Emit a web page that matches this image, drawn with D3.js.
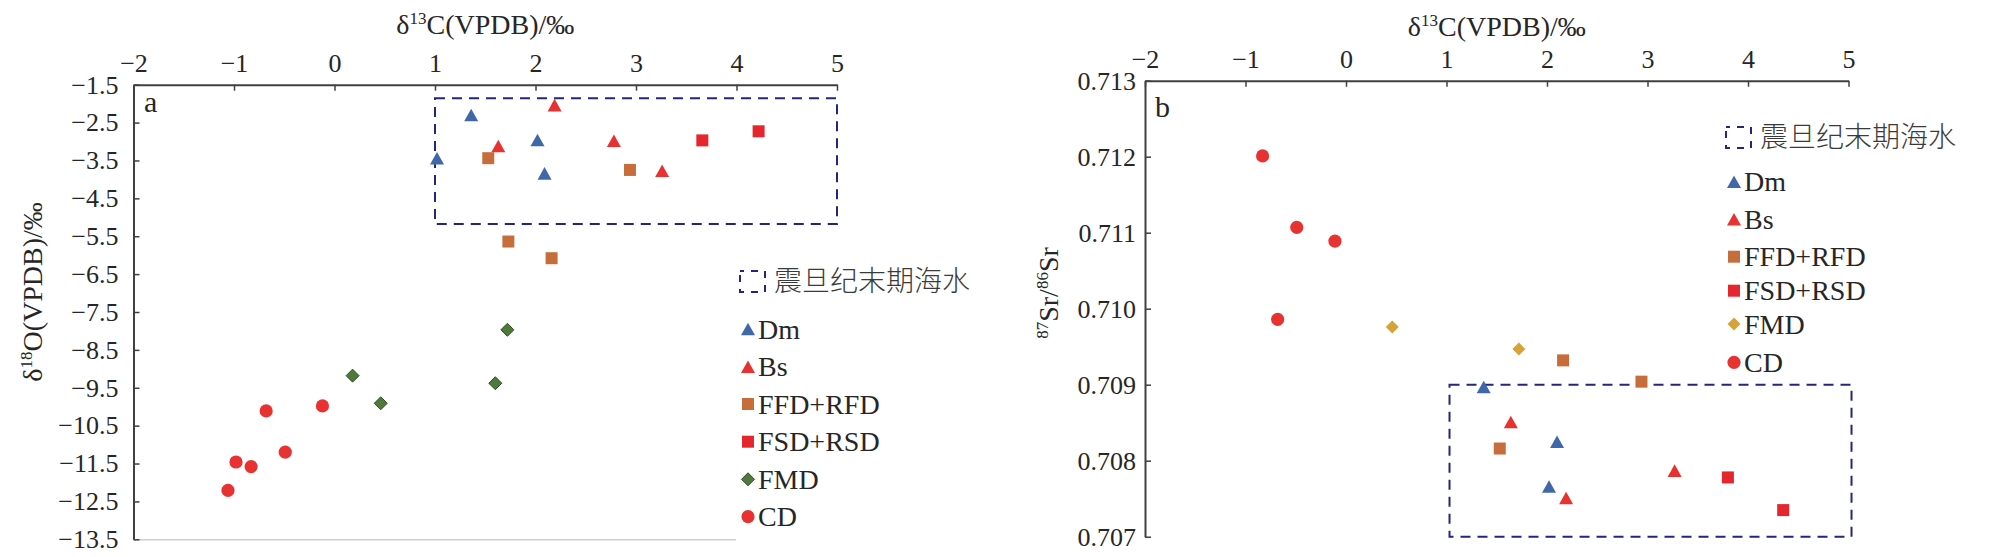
<!DOCTYPE html>
<html>
<head>
<meta charset="utf-8">
<script src="https://cdn.jsdelivr.net/npm/d3@7"></script>
<style>
  html, body { margin: 0; padding: 0; background: #ffffff; }
  svg { display: block; }
  text { font-family: "Liberation Serif", "Times New Roman", serif; fill: #262626; }
  text.cjk { font-family: "Noto Sans CJK SC", sans-serif; font-weight: 300; fill: #3a3a3a; }
</style>
</head>
<body>
<svg id="chart" width="2010" height="557"></svg>
<script>
// ---- series order, colours, marker shapes ----
const seriesNames = ["Dm", "Bs", "FFD+RFD", "FSD+RSD", "FMD", "CD"];
const seriesColorsA = ["#4068a8", "#e83131", "#c76d3b", "#e5272d", "#4f7a3b", "#e83232"];
const seriesColorsB = ["#4068a8", "#e83131", "#c76d3b", "#e5272d", "#d6a33b", "#e83232"];
const seriesShapes = ["triangle", "triangle", "square", "square", "diamond", "circle"];
const seawaterLabel = "震旦纪末期海水";

// ---- panel a: δ13C vs δ18O ----
const aDm   = [[1.36, -2.30], [1.02, -3.44], [2.02, -2.96], [2.09, -3.84]];
const aBs   = [[2.19, -2.04], [1.63, -3.12], [2.78, -2.98], [3.26, -3.77]];
const aFFD  = [[1.53, -3.44], [2.94, -3.75], [1.73, -5.64], [2.16, -6.08]];
const aFSD  = [[3.66, -2.97], [4.22, -2.73]];
const aFMD  = [[0.18, -9.18], [0.46, -9.91], [1.60, -9.38], [1.72, -7.97]];
const aCD   = [[-1.06, -12.21], [-0.98, -11.46], [-0.83, -11.58], [-0.68, -10.11], [-0.49, -11.20], [-0.12, -9.98]];
const aXTicks = [-2, -1, 0, 1, 2, 3, 4, 5];
const aYTicks = [-1.5, -2.5, -3.5, -4.5, -5.5, -6.5, -7.5, -8.5, -9.5, -10.5, -11.5, -12.5, -13.5];
const aSeawaterBox = [[1, -1.86], [5, -5.18]];

// ---- panel b: δ13C vs 87Sr/86Sr ----
const bDm   = [[1.37, 0.70897], [2.10, 0.70825], [2.02, 0.70766]];
const bBs   = [[1.64, 0.70851], [3.27, 0.70787], [2.19, 0.70751]];
const bFFD  = [[1.53, 0.70816], [2.16, 0.70932], [2.94, 0.70904]];
const bFSD  = [[3.80, 0.70778], [4.35, 0.70735]];
const bFMD  = [[0.46, 0.70976], [1.72, 0.70947]];
const bCD   = [[-0.83, 0.71201], [-0.49, 0.71107], [-0.11, 0.71089], [-0.68, 0.70986]];
const bXTicks = [-2, -1, 0, 1, 2, 3, 4, 5];
const bYTicks = [0.713, 0.712, 0.711, 0.710, 0.709, 0.708, 0.707];
const bSeawaterBox = [[1.03, 0.709], [5.03, 0.707]];

// ---- marker symbols (centred on the bounding box) ----
const triangleSym = {
  draw(ctx, size) {
    const w = Math.sqrt(size), h = w * 0.9;
    ctx.moveTo(0, -h / 2); ctx.lineTo(w / 2, h / 2); ctx.lineTo(-w / 2, h / 2); ctx.closePath();
  }
};
const diamondSym = {
  draw(ctx, size) {
    const r = Math.sqrt(size) / 2;
    ctx.moveTo(0, -r); ctx.lineTo(r, 0); ctx.lineTo(0, r); ctx.lineTo(-r, 0); ctx.closePath();
  }
};
const symbolFor = {
  triangle: d3.symbol(triangleSym, 14 * 14),
  square: d3.symbol(d3.symbolSquare, 12 * 12),
  diamond: d3.symbol(diamondSym, 13 * 13),
  circle: d3.symbol(d3.symbolCircle, Math.PI * 6.6 * 6.6)
};

const svg = d3.select("#chart");
const axisColor = "#404040";
const boxColor = "#25257f";

function drawPanel(cfg) {
  const g = svg.append("g");
  const x = d3.scaleLinear().domain([-2, 5]).range(cfg.xRange);
  const y = d3.scaleLinear().domain(cfg.yDomain).range(cfg.yRange);

  if (cfg.bottomLine) {
    g.append("line")
      .attr("x1", cfg.xRange[0]).attr("x2", cfg.bottomLine)
      .attr("y1", cfg.yRange[1] + 0.5).attr("y2", cfg.yRange[1] + 0.5)
      .attr("stroke", "#cfcfcf").attr("stroke-width", 1.5);
  }

  // top x axis, ticks pointing into the plot
  const xAxis = g.append("g")
    .attr("transform", `translate(0,${cfg.yRange[0]})`)
    .call(d3.axisTop(x).tickValues(cfg.xTicks).tickFormat(d3.format("d"))
      .tickSizeInner(-6).tickSizeOuter(0).tickPadding(13));
  // left y axis, ticks pointing into the plot
  const yAxis = g.append("g")
    .attr("transform", `translate(${cfg.xRange[0]},0)`)
    .call(d3.axisLeft(y).tickValues(cfg.yTicks).tickFormat(d3.format(cfg.yFormat))
      .tickSizeInner(-6).tickSizeOuter(0).tickPadding(cfg.yPad));
  [xAxis, yAxis].forEach(a => {
    a.attr("font-family", null).attr("font-size", null);
    a.select(".domain").attr("stroke", axisColor).attr("stroke-width", 2);
    a.selectAll(".tick line").attr("stroke", axisColor).attr("stroke-width", 1.5);
    a.selectAll(".tick text").attr("font-size", 26).attr("fill", "#262626");
  });

  // x axis title
  const xt = g.append("text")
    .attr("x", (cfg.xRange[0] + cfg.xRange[1]) / 2).attr("y", cfg.xTitleY)
    .attr("text-anchor", "middle").attr("font-size", 28);
  xt.append("tspan").text("δ");
  xt.append("tspan").attr("font-size", 17).attr("dy", -10).text("13");
  xt.append("tspan").attr("dy", 10).text("C(VPDB)/‰");

  // y axis title
  const yt = g.append("text")
    .attr("transform", `translate(${cfg.yTitleX},${cfg.yTitleY}) rotate(-90)`)
    .attr("text-anchor", "middle").attr("font-size", 28);
  cfg.yTitleParts.forEach(p => {
    if (p.sup) yt.append("tspan").attr("font-size", 17).attr("dy", -10).text(p.t);
    else yt.append("tspan").attr("dy", p.after ? 10 : 0).text(p.t);
  });

  // panel letter
  g.append("text").attr("x", cfg.letterPos[0]).attr("y", cfg.letterPos[1])
    .attr("font-size", 30).text(cfg.letter);

  // seawater field
  const [b0, b1] = cfg.box;
  g.append("rect")
    .attr("x", x(b0[0])).attr("y", y(b0[1]))
    .attr("width", x(b1[0]) - x(b0[0])).attr("height", y(b1[1]) - y(b0[1]))
    .attr("fill", "none").attr("stroke", boxColor).attr("stroke-width", 2)
    .attr("stroke-dasharray", "10,7");

  // data markers
  cfg.series.forEach((pts, i) => {
    g.append("g").selectAll("path").data(pts).join("path")
      .attr("transform", d => `translate(${x(d[0])},${y(d[1])})`)
      .attr("d", symbolFor[seriesShapes[i]]())
      .attr("fill", cfg.colors[i])
      .attr("stroke", cfg.strokes[i] || "none")
      .attr("stroke-width", 1);
  });

  // legend
  const lg = g.append("g");
  const [lx, ly] = cfg.legendPos;
  lg.append("rect").attr("x", lx).attr("y", ly - 10).attr("width", 25).attr("height", 21)
    .attr("fill", "none").attr("stroke", boxColor).attr("stroke-width", 2)
    .attr("stroke-dasharray", "7,7").attr("stroke-dashoffset", 3);
  lg.append("text").attr("class", "cjk").attr("x", lx + 34).attr("y", ly + 10)
    .attr("font-size", 28).text(seawaterLabel);
  seriesNames.forEach((name, i) => {
    const cy = cfg.legendRows[i];
    lg.append("path")
      .attr("transform", `translate(${lx + 8},${cy})`)
      .attr("d", symbolFor[seriesShapes[i]]())
      .attr("fill", cfg.colors[i])
      .attr("stroke", cfg.strokes[i] || "none").attr("stroke-width", 1);
    lg.append("text").attr("x", lx + 18).attr("y", cy + 9.5)
      .attr("font-size", 28).text(name);
  });
}

drawPanel({
  xRange: [133.5, 837], yDomain: [-1.5, -13.5], yRange: [84.7, 539.3],
  xTicks: aXTicks, yTicks: aYTicks, yFormat: ".1f", yPad: 15,
  xTitleY: 34, yTitleX: 42, yTitleY: 292,
  yTitleParts: [{t: "δ"}, {t: "18", sup: true}, {t: "O(VPDB)/‰", after: true}],
  letter: "a", letterPos: [144, 112],
  box: aSeawaterBox,
  series: [aDm, aBs, aFFD, aFSD, aFMD, aCD],
  colors: seriesColorsA, strokes: [null, null, null, null, "#2f4c25", null],
  legendPos: [740, 281], legendRows: [329, 366.7, 404, 441.7, 479.3, 516.7],
  bottomLine: 736
});

drawPanel({
  xRange: [1145, 1848.5], yDomain: [0.713, 0.707], yRange: [80.7, 536.7],
  xTicks: bXTicks, yTicks: bYTicks, yFormat: ".3f", yPad: 9,
  xTitleY: 36, yTitleX: 1058, yTitleY: 293,
  yTitleParts: [{t: "87", sup: true}, {t: "Sr/", after: true}, {t: "86", sup: true}, {t: "Sr", after: true}],
  letter: "b", letterPos: [1155, 117],
  box: bSeawaterBox,
  series: [bDm, bBs, bFFD, bFSD, bFMD, bCD],
  colors: seriesColorsB, strokes: [null, null, null, null, null, null],
  legendPos: [1726, 137], legendRows: [181.7, 219.3, 256.7, 290.7, 324, 362.3],
  bottomLine: null
});
</script>
</body>
</html>
